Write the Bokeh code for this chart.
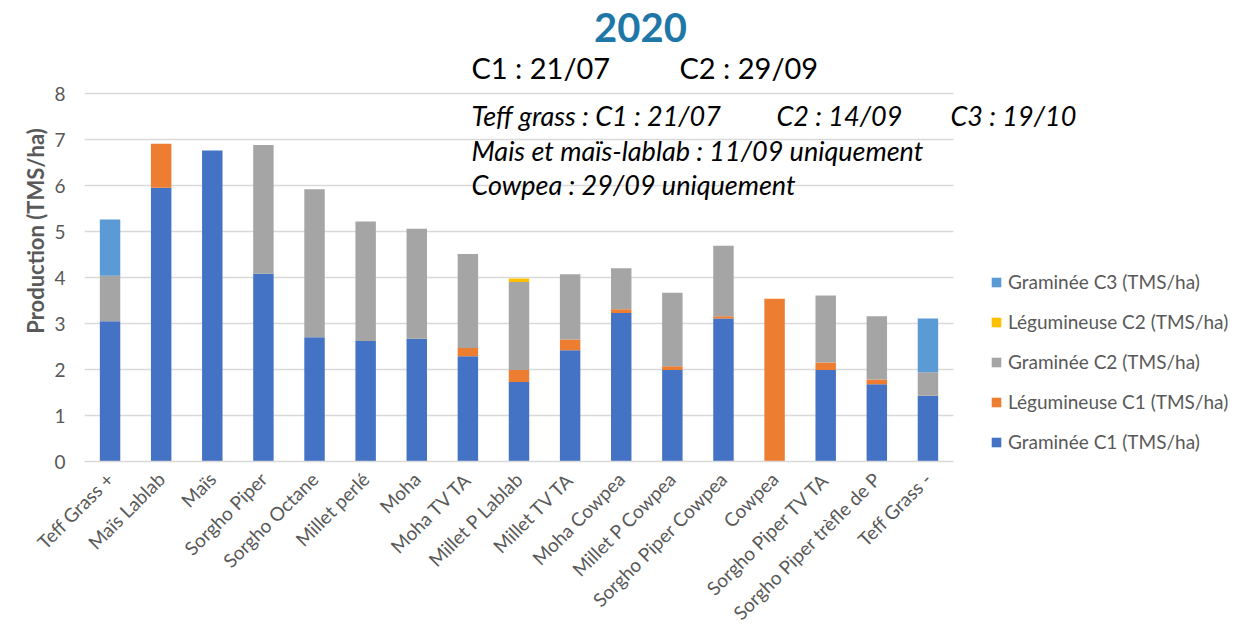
from math import pi
from bokeh.plotting import figure
from bokeh.models import Range1d, Legend, LegendItem, Label, FixedTicker
from bokeh.embed import file_html
from bokeh.resources import INLINE

categories = ["Teff Grass +", "Maïs Lablab", "Maïs", "Sorgho Piper", "Sorgho Octane",
              "Millet perlé", "Moha", "Moha TV TA", "Millet P Lablab", "Millet TV TA",
              "Moha Cowpea", "Millet P Cowpea", "Sorgho Piper Cowpea", "Cowpea",
              "Sorgho Piper TV TA", "Sorgho Piper trèfle de P", "Teff Grass -"]

graminee_c1 = [3.05, 5.95, 6.76, 4.08, 2.70, 2.62, 2.67, 2.29, 1.73, 2.42,
               3.23, 1.99, 3.11, 0.00, 1.99, 1.68, 1.43]
legumineuse_c1 = [0.00, 0.96, 0.00, 0.00, 0.00, 0.00, 0.00, 0.18, 0.26, 0.23,
                  0.08, 0.08, 0.05, 3.54, 0.16, 0.10, 0.00]
graminee_c2 = [0.99, 0.00, 0.00, 2.80, 3.22, 2.60, 2.39, 2.04, 1.91, 1.42,
               0.89, 1.60, 1.53, 0.00, 1.46, 1.38, 0.51]
legumineuse_c2 = [0.00, 0.00, 0.00, 0.00, 0.00, 0.00, 0.00, 0.00, 0.08, 0.00,
                  0.00, 0.00, 0.00, 0.00, 0.00, 0.00, 0.00]
graminee_c3 = [1.22, 0.00, 0.00, 0.00, 0.00, 0.00, 0.00, 0.00, 0.00, 0.00,
               0.00, 0.00, 0.00, 0.00, 0.00, 0.00, 1.17]

y_ticks = [0, 1, 2, 3, 4, 5, 6, 7, 8]

series_keys = ["g1", "l1", "g2", "l2", "g3"]
series_names = ["Graminée C1 (TMS/ha)", "Légumineuse C1 (TMS/ha)", "Graminée C2 (TMS/ha)",
                "Légumineuse C2 (TMS/ha)", "Graminée C3 (TMS/ha)"]
colors = ["#4472C4", "#ED7D31", "#A5A5A5", "#FFC000", "#5B9BD5"]

FONT = "Lato"
GREY = "#595959"

n = len(categories)
xpos = list(range(n))
data = {"x": xpos, "g1": graminee_c1, "l1": legumineuse_c1,
        "g2": graminee_c2, "l2": legumineuse_c2, "g3": graminee_c3}

# plot area: categories occupy 84..953 px, values 0..8 occupy 461..93 px;
# the frame is extended to the right and top edges so that legend & notes fit inside it
LEFT, BOTTOM = 84, 181
pitch = (953 - 84) / n
unit = (461 - 93) / 8
x_end = -0.5 + (1237 - LEFT) / pitch
y_end = (642 - BOTTOM) / unit

p = figure(width=1237, height=642, x_range=Range1d(-0.5, x_end), y_range=Range1d(0, y_end),
           output_backend="svg", toolbar_location=None,
           min_border_left=LEFT, min_border_right=0, min_border_top=0, min_border_bottom=BOTTOM)
p.outline_line_color = None

renderers = p.vbar_stack(series_keys, x="x", width=0.4, color=colors, line_color=None, source=data)

p.yaxis.ticker = FixedTicker(ticks=y_ticks)
p.yaxis.bounds = (0, 8)
p.yaxis.axis_line_color = None
p.yaxis.major_tick_line_color = None
p.yaxis.minor_tick_line_color = None
p.yaxis.major_label_standoff = 13
p.yaxis.major_label_text_font = FONT
p.yaxis.major_label_text_font_size = "19px"
p.yaxis.major_label_text_color = GREY
p.yaxis.axis_label = "Production (TMS/ha)"
p.yaxis.axis_label_text_font = FONT
p.yaxis.axis_label_text_font_size = "22px"
p.yaxis.axis_label_text_font_style = "bold"
p.yaxis.axis_label_text_color = GREY
p.yaxis.axis_label_standoff = 2

p.xaxis.ticker = FixedTicker(ticks=xpos)
p.xaxis.major_label_overrides = {i: c for i, c in zip(xpos, categories)}
p.xaxis.bounds = (-0.5, n - 0.5)
p.xaxis.axis_line_color = "#D9D9D9"
p.xaxis.axis_line_width = 1.5
p.xaxis.major_tick_line_color = None
p.xaxis.minor_tick_line_color = None
p.xaxis.major_label_orientation = pi / 4
p.xaxis.major_label_standoff = 8
p.xaxis.major_label_text_font = FONT
p.xaxis.major_label_text_font_size = "19px"
p.xaxis.major_label_text_color = GREY

p.xgrid.grid_line_color = None
p.ygrid.grid_line_color = "#D9D9D9"
p.ygrid.grid_line_width = 1.5
p.ygrid.cross_bounds = (-0.5, n - 0.5)

items = [LegendItem(label=series_names[i], renderers=[renderers[i]]) for i in range(4, -1, -1)]
legend = Legend(items=items, location=(906, 8), orientation="vertical")
legend.padding = 0
legend.margin = 0
legend.spacing = 17
legend.glyph_width = 12
legend.glyph_height = 12
legend.label_standoff = 6
legend.label_height = 20
legend.label_text_font = FONT
legend.label_text_font_size = "19px"
legend.label_text_color = GREY
legend.border_line_color = None
legend.background_fill_alpha = 0
p.add_layout(legend, "center")

def note(txt, cx, cy, size, style="normal", color="black", align="left"):
    # cx, cy: canvas pixel position; converted to frame-relative screen units
    p.add_layout(Label(x=cx - LEFT, y=(642 - BOTTOM) - cy, x_units="screen", y_units="screen",
                       text=txt, text_font=FONT, text_font_size=size, text_font_style=style,
                       text_color=color, text_align=align, text_baseline="middle"))

note("2020", 640, 27, "40px", "bold", "#1F77A8", "center")
note("C1 : 21/07", 471, 67, "29px")
note("C2 : 29/09", 679, 67, "29px")
note("Teff grass : C1 : 21/07", 471, 115, "27px", "italic")
note("C2 : 14/09", 776, 115, "27px", "italic")
note("C3 : 19/10", 950, 115, "27px", "italic")
note("Mais et maïs-lablab : 11/09 uniquement", 471, 150, "27px", "italic")
note("Cowpea : 29/09 uniquement", 471, 184, "27px", "italic")

open("out.html", "w").write(file_html(p, INLINE))
